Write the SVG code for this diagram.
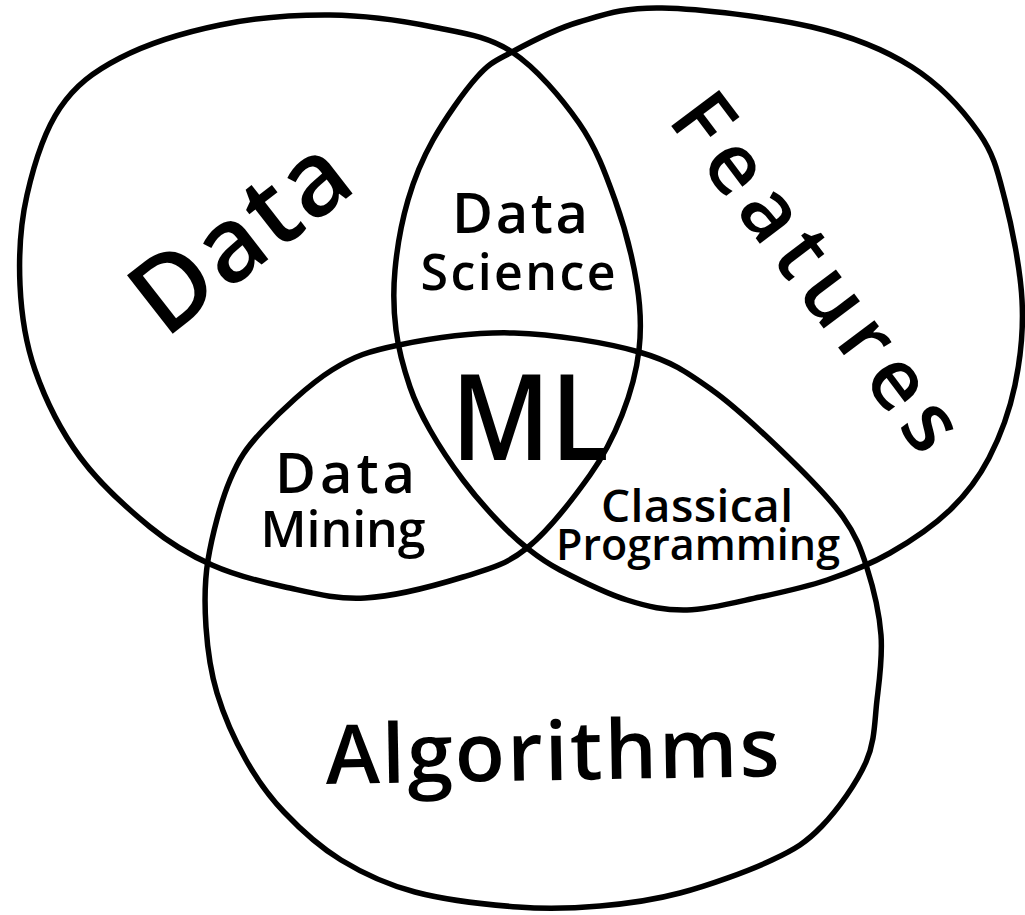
<svg xmlns="http://www.w3.org/2000/svg" width="1025" height="915" viewBox="0 0 1025 915">
<style>
.ring{fill:none;stroke:#000;stroke-width:5.5;stroke-linecap:round;stroke-linejoin:round}
.lbl{font-family:"Open Sans","Noto Sans","Liberation Sans",sans-serif;font-weight:600;fill:#000;text-anchor:middle}
</style>
<rect width="1025" height="915" fill="#fff"/>
<g id="data">
<path class="ring" d="M330,15 C365.5,15.3 402.7,20.8 433,27 C463.3,33.2 487.7,36 512,52 C536.3,68 561.8,98.3 579,123 C596.2,147.7 605.3,173 615,200 C624.7,227 633,260 637,285 C641,310 641.5,328.3 639,350 C636.5,371.7 630.2,394.2 622,415 C613.8,435.8 605.8,452.8 590,475 C574.2,497.2 548.2,531 527,548 C505.8,565 490,568.7 463,577 C436,585.3 394.7,596.3 365,598 C335.3,599.7 310.5,592.5 285,587 C259.5,581.5 234.5,575 212,565 C189.5,555 172,545 150,527 C128,509 99.2,483.2 80,457 C60.8,430.8 45,398.7 35,370 C25,341.3 21.3,314.2 20,285 C18.7,255.8 20.3,224.5 27,195 C33.7,165.5 44.5,130.8 60,108 C75.5,85.2 93.3,71.8 120,58 C146.7,44.2 185,32.2 220,25 C255,17.8 294.5,14.7 330,15 Z"/>
<text class="lbl" transform="translate(262,264) rotate(-38)" font-size="104" textLength="246">Data</text>
</g>
<g id="features">
<path class="ring" d="M662,8 C700.8,8.8 770.3,17.2 812,27 C853.7,36.8 884.2,49.3 912,67 C939.8,84.7 963.5,110.8 979,133 C994.5,155.2 997.8,172.2 1005,200 C1012.2,227.8 1020.3,269.2 1022,300 C1023.7,330.8 1020.5,358.7 1015,385 C1009.5,411.3 999.8,437.2 989,458 C978.2,478.8 966.5,494.2 950,510 C933.5,525.8 910.5,541.3 890,553 C869.5,564.7 848.7,572.7 827,580 C805.3,587.3 783.3,592 760,597 C736.7,602 709.2,609.5 687,610 C664.8,610.5 648.2,606.7 627,600 C605.8,593.3 576.7,578.7 560,570 C543.3,561.3 537.5,556.3 527,548 C516.5,539.7 507.7,531.3 497,520 C486.3,508.7 474.2,495 463,480 C451.8,465 438.8,445.5 430,430 C421.2,414.5 415.7,403.7 410,387 C404.3,370.3 398.5,349.5 396,330 C393.5,310.5 393,291.7 395,270 C397,248.3 401.7,221.7 408,200 C414.3,178.3 421.5,160.5 433,140 C444.5,119.5 463.8,91.7 477,77 C490.2,62.3 495,61.2 512,52 C529,42.8 554,29.3 579,22 C604,14.7 623.2,7.2 662,8 Z"/>
<text class="lbl" transform="translate(794,289) rotate(53)" font-size="84" textLength="424">Features</text>
</g>
<g id="algorithms">
<path class="ring" d="M514,333 C554,334.2 606,342.5 639,352 C672,361.5 687,372.3 712,390 C737,407.7 767.2,436.8 789,458 C810.8,479.2 830,498.7 843,517 C856,535.3 860.7,548.3 867,568 C873.3,587.7 879.3,613 881,635 C882.7,657 879.5,678.8 877,700 C874.5,721.2 875.2,741 866,762 C856.8,783 837.7,809.7 822,826 C806.3,842.3 795.7,848.8 772,860 C748.3,871.2 708.7,885.3 680,893 C651.3,900.7 627,903.7 600,906 C573,908.3 548.8,909.3 518,907 C487.2,904.7 444.5,899.8 415,892 C385.5,884.2 362.8,873.3 341,860 C319.2,846.7 299.8,828.7 284,812 C268.2,795.3 257.2,779.8 246,760 C234.8,740.2 223.7,715.2 217,693 C210.3,670.8 207.5,649.2 206,627 C204.5,604.8 204,584.5 208,560 C212,535.5 220.8,501.7 230,480 C239.2,458.3 246,448.3 263,430 C280,411.7 309.3,384.2 332,370 C354.7,355.8 368.7,351.2 399,345 C429.3,338.8 474,331.8 514,333 Z"/>
<text class="lbl" transform="translate(553,780) rotate(-1)" font-size="82" textLength="454">Algorithms</text>
</g>
<g id="data-science">
<text class="lbl"><tspan x="520" y="233" font-size="56" textLength="136">Data</tspan><tspan x="518" y="290" font-size="50" textLength="195">Science</tspan></text>
</g>
<g id="ml">
<text class="lbl" x="530" y="460" font-size="120" font-weight="700" textLength="158" lengthAdjust="spacingAndGlyphs">ML</text>
</g>
<g id="data-mining">
<text class="lbl"><tspan x="345" y="493" font-size="56" textLength="140">Data</tspan><tspan x="343" y="547" font-size="50" textLength="165">Mining</tspan></text>
</g>
<g id="classical-programming">
<text class="lbl"><tspan x="697" y="522" font-size="46" textLength="192">Classical</tspan><tspan x="698" y="560" font-size="43" textLength="284">Programming</tspan></text>
</g>
<g id="connectors"/>
</svg>
